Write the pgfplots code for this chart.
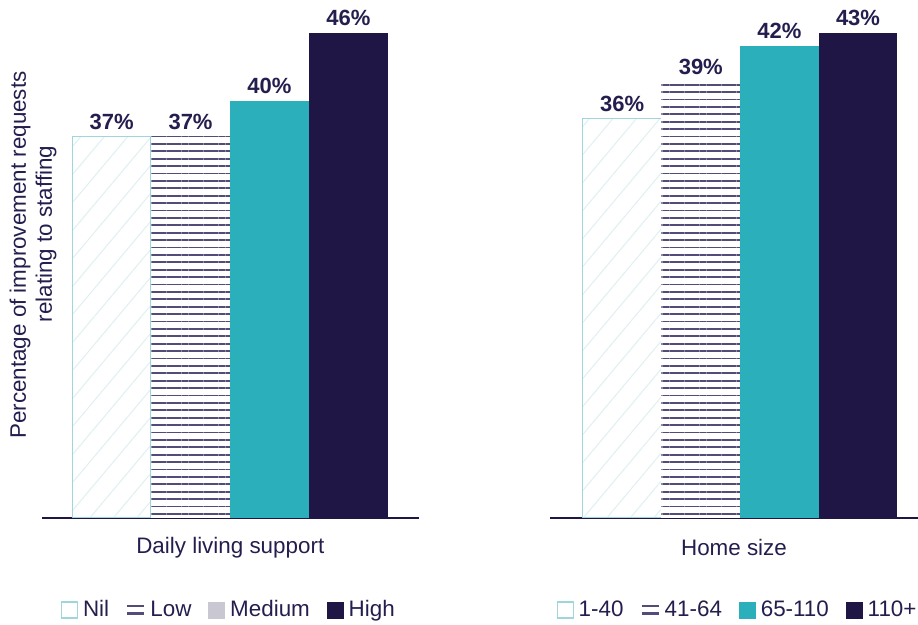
\documentclass[border=0pt]{standalone}
\usepackage{pgfplots}
\pgfplotsset{compat=1.18}
\usetikzlibrary{patterns.meta}
\usepackage{fontspec}
\setmainfont{Liberation Sans}
\definecolor{navy}{HTML}{1F1646}
\definecolor{myteal}{HTML}{2BB0BB}
\definecolor{nilborder}{HTML}{9ED6DC}
\definecolor{nilhatch}{HTML}{E0F0F2}
\definecolor{lowline}{HTML}{524C78}
\definecolor{medgray}{HTML}{C9C8D2}
\definecolor{txt}{HTML}{231E4E}
\pgfplotsset{
  panel/.style={
    scale only axis, height=249pt, ymin=0,
    ybar, bar width=39.3pt,
    axis x line*=bottom, axis y line*=left,
    y axis line style={draw=none},
    ticks=none, xtick=\empty, ytick=\empty,
    x axis line style={line width=1.4pt, navy, -},
    clip=false,
    font=\fontsize{11.2}{13}\selectfont,
    nodes near coords, point meta=explicit symbolic,
    every node near coord/.append style={font=\fontsize{11}{12}\selectfont\bfseries, text=txt, anchor=south},
    xlabel style={at={(axis description cs:0.5,0)}, anchor=center, yshift=-15pt, text=txt},
    legend columns=4,
    legend style={at={(0.5,0)}, anchor=center, yshift=-46pt, draw=none, fill=none,
      text=txt, font=\fontsize{11.2}{13}\selectfont,
      /tikz/every even column/.append style={column sep=6pt},
      nodes={inner sep=2.5pt}},
  },
  nilbar/.style={bar shift=0pt, draw=nilborder, line width=0.5pt, fill=white,
    postaction={pattern={Lines[angle=50, distance=9pt, line width=0.5pt]}, pattern color=nilhatch}},
  lowbar/.style={bar shift=0pt, draw=none, fill=white,
    postaction={pattern={Lines[angle=0, distance=3.7pt, line width=0.9pt]}, pattern color=lowline}},
  tealbar/.style={bar shift=0pt, draw=none, fill=myteal},
  navybar/.style={bar shift=0pt, draw=none, fill=navy},
}
\begin{document}
\begin{tikzpicture}
\useasboundingbox (0,0) rectangle (459pt,312.5pt);
\begin{axis}[panel, at={(21pt,53.5pt)}, anchor=south west,
  width=188.3pt, xmin=0.117, xmax=4.891, ymax=47.66,
  xlabel={Daily living support},
  ylabel={Percentage of improvement requests\\\hspace*{21pt}relating to staffing},
  ylabel style={at={(axis description cs:0,0.528)}, anchor=center, yshift=4.5pt, align=center, text=txt, font=\fontsize{11.2}{13}\selectfont},
]
\addplot[nilbar, forget plot] coordinates {(1,36.5) [37\%]};
\addplot[lowbar, forget plot] coordinates {(2,36.5) [37\%]};
\addplot[tealbar, forget plot] coordinates {(3,39.9) [40\%]};
\addplot[navybar, forget plot] coordinates {(4,46.4) [46\%]};
\addlegendimage{legend image code/.code={\draw[fill=white, draw=nilborder, line width=0.6pt] (0pt,-4pt) rectangle (8pt,4pt);}}
\addlegendentry{Nil}
\addlegendimage{legend image code/.code={\draw[lowline, line width=1.1pt] (0pt,-1.8pt) -- (8.5pt,-1.8pt) (0pt,1.8pt) -- (8.5pt,1.8pt);}}
\addlegendentry{Low}
\addlegendimage{legend image code/.code={\fill[medgray] (0pt,-4pt) rectangle (8pt,4pt);}}
\addlegendentry{Medium}
\addlegendimage{legend image code/.code={\fill[navy] (0pt,-4pt) rectangle (8pt,4pt);}}
\addlegendentry{High}
\end{axis}
\begin{axis}[panel, at={(275pt,53.5pt)}, anchor=south west,
  width=184pt, xmin=0.082, xmax=4.763, ymax=44.27,
  xlabel={Home size},
  legend style={xshift=2.5pt},
]
\addplot[nilbar, forget plot] coordinates {(1,35.5) [36\%]};
\addplot[lowbar, forget plot] coordinates {(2,38.8) [39\%]};
\addplot[tealbar, forget plot] coordinates {(3,42.0) [42\%]};
\addplot[navybar, forget plot] coordinates {(4,43.1) [43\%]};
\addlegendimage{legend image code/.code={\draw[fill=white, draw=nilborder, line width=0.6pt] (0pt,-4pt) rectangle (8pt,4pt);}}
\addlegendentry{1-40}
\addlegendimage{legend image code/.code={\draw[lowline, line width=1.1pt] (0pt,-1.8pt) -- (8.5pt,-1.8pt) (0pt,1.8pt) -- (8.5pt,1.8pt);}}
\addlegendentry{41-64}
\addlegendimage{legend image code/.code={\fill[myteal] (0pt,-4pt) rectangle (8pt,4pt);}}
\addlegendentry{65-110}
\addlegendimage{legend image code/.code={\fill[navy] (0pt,-4pt) rectangle (8pt,4pt);}}
\addlegendentry{110+}
\end{axis}
\end{tikzpicture}
\end{document}
